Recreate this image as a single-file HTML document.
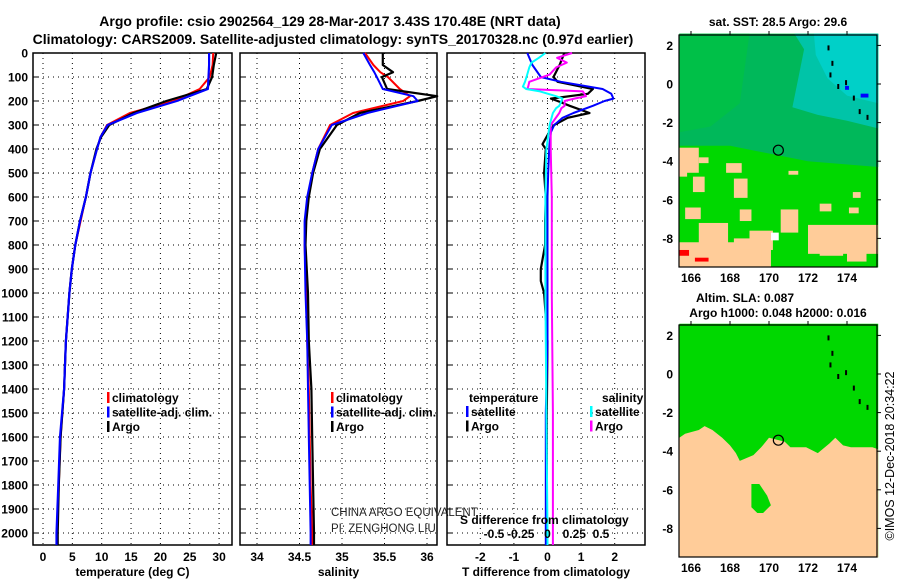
<!DOCTYPE html>
<html><head><meta charset="utf-8"><style>
body{margin:0;background:#fff;}
svg text{font-family:"Liberation Sans",sans-serif;}
</style></head><body>
<svg id="fig" xmlns="http://www.w3.org/2000/svg" width="900" height="580" viewBox="0 0 900 580">
<rect x="0" y="0" width="900" height="580" fill="#fff"/>
<text x="330" y="26" font-size="14" font-weight="bold" text-anchor="middle">Argo profile: csio 2902564_129 28-Mar-2017 3.43S 170.48E (NRT data)</text>
<text x="333" y="44" font-size="14" font-weight="bold" text-anchor="middle">Climatology: CARS2009. Satellite-adjusted climatology: synTS_20170328.nc (0.97d earlier)</text>
<g id="plots"></g>
</svg>
<script>
// ---- data ----
const depthTicks = [0,100,200,300,400,500,600,700,800,900,1000,1100,1200,1300,1400,1500,1600,1700,1800,1900,2000];
const tempTicks = [0,5,10,15,20,25,30];
const salTicks = [34,34.5,35,35.5,36];
const tdTicks = [-2,-1,0,1,2];
const sdTicks = [-0.5,-0.25,0,0.25,0.5];
const sdTickLabels = ["-0.5","-0.25","0","0.25","0.5"];

const profDepth = [0,50,100,150,200,250,300,350,400,500,600,700,800,900,1000,1200,1400,1600,1800,2000,2050];
const tempClim  = [29.0,28.9,28.4,26.7,22.2,14.8,10.9,9.8,9.2,8.1,7.3,6.4,5.5,4.9,4.5,3.9,3.6,3.0,2.7,2.4,2.3];
const tempSat   = [28.3,28.3,28.2,28.1,22.8,16.0,11.0,9.8,9.2,8.1,7.3,6.3,5.5,4.9,4.5,3.9,3.6,2.9,2.6,2.3,2.3];
const tempArgo  = [29.5,29.1,28.8,27.9,21.0,15.4,11.3,9.9,9.1,8.1,7.3,6.3,5.5,4.9,4.5,3.9,3.6,3.0,2.7,2.5,2.5];

const salDepth = [0,50,80,100,150,180,200,250,300,400,500,600,700,800,1000,1200,1400,1600,1800,2000,2050];
const salClim = [35.27,35.37,35.45,35.54,35.68,35.80,35.72,35.13,34.86,34.72,34.65,34.60,34.57,34.56,34.58,34.59,34.61,34.62,34.63,34.65,34.65];
const salSat  = [35.25,35.33,35.38,35.41,35.48,35.84,35.89,35.30,34.88,34.72,34.65,34.59,34.56,34.56,34.57,34.59,34.60,34.61,34.62,34.63,34.63];
const salArgo = [35.48,35.48,35.60,35.47,35.53,36.12,35.89,35.21,34.94,34.74,34.66,34.61,34.58,34.57,34.60,34.61,34.64,34.65,34.66,34.67,34.67];

const tdDepth = [0,50,100,120,150,170,190,200,220,250,270,300,330,380,400,500,600,700,800,900,950,1000,1100,1200,1500,2000,2050];
const tdSat  = [-0.6,-0.45,-0.2,0.4,1.64,1.9,1.96,1.7,1.35,0.77,0.45,0.2,0.1,0.06,0.05,0.02,0.0,0.0,0.0,0.0,0.0,0.0,0.0,0.0,-0.05,-0.05,-0.05];
const tdArgo = [0.5,0.36,0.18,0.3,1.35,1.2,0.1,0.3,0.66,1.25,0.6,0.2,0.05,-0.15,-0.05,-0.1,-0.05,-0.07,-0.07,-0.2,-0.2,-0.1,-0.05,0.0,-0.02,-0.02,-0.02];
const sdDepth = [0,20,40,60,90,120,140,150,160,180,190,200,220,230,250,300,400,600,1000,1500,2000,2050];
const sdSat  = [-0.02,-0.08,-0.15,-0.17,-0.19,-0.21,-0.23,-0.2,-0.07,0.08,0.14,0.13,0.11,0.08,0.05,0.02,-0.01,-0.02,-0.02,-0.01,0.0,0.0];
const sdArgo = [0.23,0.09,0.18,0.08,0.02,-0.17,-0.18,-0.19,0.33,0.36,0.25,0.16,0.16,0.13,0.11,0.03,0.03,0.04,0.04,0.05,0.05,0.05];

const latTicks = [2,0,-2,-4,-6,-8];
const lonTicks = [166,168,170,172,174];
const argoLon = 170.48, argoLat = -3.43;

// ---- helpers ----
const NS = "http://www.w3.org/2000/svg";
const root = document.getElementById('plots');
function mk(tag, attrs, parent){ const e=document.createElementNS(NS,tag); for(const k in attrs) e.setAttribute(k,attrs[k]); (parent||root).appendChild(e); return e; }
const y0 = 53, yPer = 0.24, yBot = 545;
const yD = d => y0 + d*yPer;

function panel(name, left, right, xScale, ticks, tickLabels, title){
  const g = mk('g',{});
  
  
  ticks.forEach((t,i)=>{
    const x = xScale(t);
    const gl = mk('line',{x1:x,y1:y0,x2:x,y2:yBot,stroke:'#000','stroke-width':1,'stroke-dasharray':'1,4'},g);
    
    
    if(tickLabels){
      const tl = mk('text',{x:x,y:561,'font-size':12,'font-weight':'bold','text-anchor':'middle'},g);
      tl.textContent = tickLabels[i];
      
      
    }
  });
  depthTicks.forEach(d=>{
    const y = yD(d);
    const hl = mk('line',{x1:left,y1:y,x2:right,y2:y,stroke:'#000','stroke-width':1,'stroke-dasharray':'1,4'},g);
    
    
    const tk = mk('line',{x1:left,y1:y,x2:left+5,y2:y,stroke:'#000'},g);
    
    
  });
  const fr = mk('rect',{x:left,y:y0,width:right-left,height:yBot-y0,fill:'none',stroke:'#000','stroke-width':1.5},g);
  
  
  const at = mk('text',{x:(left+right)/2,y:576,'font-size':12,'font-weight':'bold','text-anchor':'middle'},g);
  at.textContent = title;
  
  
  return g;
}
function line(g, name, xs, ds, xScale, color, w){
  const pts = xs.map((v,i)=>xScale(v).toFixed(1)+','+yD(ds[i]).toFixed(1)).join(' ');
  const p = mk('polyline',{points:pts,fill:'none',stroke:color,'stroke-width':w||2,'stroke-linejoin':'round'},g);
  
  
}
function legend(g, items, x, y){
  items.forEach((it,i)=>{
    const yy = y + i*14.5;
    const b = mk('rect',{x:x,y:yy-10,width:2.5,height:11,fill:it[1]},g);
    
    
    const t = mk('text',{x:x+5,y:yy,'font-size':12,'font-weight':'bold'},g);
    t.textContent = it[0];
    
    
  });
}
function txt(g,name,s,x,y,opts){
  const t = mk('text',Object.assign({x:x,y:y,'font-size':12,'font-weight':'bold'},opts||{}),g);
  t.textContent = s;
  
  
  return t;
}

// y tick labels
const yl = mk('g',{});


depthTicks.forEach(d=>{
  const t = mk('text',{x:28,y:yD(d)+4.5,'font-size':12,'font-weight':'bold','text-anchor':'end'},yl);
  t.textContent = d;
  
  
});

// Temperature panel
const xT = v => 43 + v*5.87;
const gT = panel('temperature-panel', 33, 232, xT, tempTicks, tempTicks.map(String), 'temperature (deg C)');
line(gT,'temperature-climatology-line',tempClim,profDepth,xT,'#f00',2);
line(gT,'temperature-argo-line',tempArgo,profDepth,xT,'#000',2.2);
line(gT,'temperature-satellite-line',tempSat,profDepth,xT,'#00f',2.2);
legend(gT,[['climatology','#f00'],['satellite-adj. clim.','#00f'],['Argo','#000']],107,402);

// Salinity panel
const xS = v => 257 + (v-34)*85;
const gS = panel('salinity-panel', 240, 437, xS, salTicks, salTicks.map(String), 'salinity');
line(gS,'salinity-climatology-line',salClim,salDepth,xS,'#f00',2);
line(gS,'salinity-argo-line',salArgo,salDepth,xS,'#000',2.2);
line(gS,'salinity-satellite-line',salSat,salDepth,xS,'#00f',2);
legend(gS,[['climatology','#f00'],['satellite-adj. clim.','#00f'],['Argo','#000']],331,402);
txt(gS,'pi-credit-line1','CHINA ARGO EQUIVALENT',331,516,{'font-weight':'normal','font-size':11.5,fill:'#222'});
txt(gS,'pi-credit-line2','PI: ZENGHONG LIU',331,532,{'font-weight':'normal','font-size':11.5,fill:'#222'});

// Difference panel
const xTD = v => 547.5 + v*33.6;
const xSD = v => 547.5 + v*107;
const gD = panel('difference-panel', 447, 645, xTD, tdTicks, tdTicks.map(String), 'T difference from climatology');
line(gD,'tdiff-argo-line',tdArgo,tdDepth,xTD,'#000',2.2);
line(gD,'tdiff-satellite-line',tdSat,tdDepth,xTD,'#00f',2);
line(gD,'sdiff-argo-line',sdArgo,sdDepth,xSD,'#f0f',2);
line(gD,'sdiff-satellite-line',sdSat,sdDepth,xSD,'#0ff',2);
txt(gD,'tdiff-legend-title','temperature',469,402);
txt(gD,'sdiff-legend-title','salinity',602,402);
legend(gD,[['satellite','#00f'],['Argo','#000']],466,416);
legend(gD,[['satellite','#0ff'],['Argo','#f0f']],590,416);
txt(gD,'sdiff-axis-title','S difference from climatology',460,524);
sdTicks.forEach((t,i)=>{
  txt(gD,'sdiff-tick-label',sdTickLabels[i],xSD(t),538,{'text-anchor':'middle'});
});

// ---- maps ----
const mapL=679, mapR=877;
const lonX = lon => 691 + (lon-166)*19.5;
function mapFrame(name){
  const g = mk('g',{});
  
  
  return g;
}
function mapAxes(g, top, bot, latY){
  const fr = mk('rect',{x:mapL,y:top,width:mapR-mapL,height:bot-top,fill:'none',stroke:'#000','stroke-width':1.2},g);
  
  
  latTicks.forEach(la=>{
    const y=latY(la);
    txt(g,'lat-tick-label',String(la),673,y+4.5,{'text-anchor':'end'});
    const tk=mk('line',{x1:mapR,y1:y,x2:mapR+4,y2:y,stroke:'#000'},g);
    
    
  });
  lonTicks.forEach(lo=>{
    const x=lonX(lo);
    txt(g,'lon-tick-label',String(lo),x,bot+15,{'text-anchor':'middle'});
    const tk=mk('line',{x1:x,y1:top,x2:x,y2:top-4,stroke:'#000'},g);
    
    
  });
  const c = mk('circle',{cx:lonX(argoLon),cy:latY(argoLat),r:5,fill:'none',stroke:'#000','stroke-width':1.2},g);
  
  
  const isl = [[173,2],[173.2,1.2],[173.1,0.6],[173.5,0],[173.9,0.2],[174.3,-0.6],[174.6,-1.3],[175.0,-1.6]];
  isl.forEach(p=>{
    const r=mk('rect',{x:lonX(p[0]),y:latY(p[1]),width:2,height:5,fill:'#000'},g);
    
    
  });
}
function poly(g,name,pts,fill,latY){
  const p=mk('polygon',{points:pts.map(q=>lonX(q[0]).toFixed(1)+','+latY(q[1]).toFixed(1)).join(' '),fill:fill},g);
  
  
}
function box(g,name,lo,la,w,h,fill,latY){
  const r=mk('rect',{x:lonX(lo),y:latY(la),width:w*19.5,height:h*19.3,fill:fill},g);
  
  
}
// SST map
const lat1 = la => 84 - la*19.3;
const gM1 = mapFrame('sst-map');
txt(gM1,'sst-map-title','sat. SST: 28.5 Argo: 29.6',778,26,{'text-anchor':'middle'});
poly(gM1,'sst-bright-region',[[165.4,2.6],[175.6,2.6],[175.6,-9.5],[165.4,-9.5]],'#00d800',lat1);
poly(gM1,'sst-teal-region',[[165.4,2.6],[175.6,2.6],[175.6,-4.3],[172,-4.0],[170,-3.6],[168,-3.2],[165.4,-3.2]],'#00b85a',lat1);
poly(gM1,'sst-greenish-north',[[165.4,2.6],[169,2.6],[168.5,-1],[167,-2.2],[165.4,-2.5]],'#00c048',lat1);
poly(gM1,'sst-cyan-region',[[171.3,2.6],[175.6,2.6],[175.6,-2.3],[174,-1.9],[172.5,-1.6],[171.2,-1.2],[171.5,0.3],[171.8,1.8]],'#00c4a8',lat1);
poly(gM1,'sst-cyan-core',[[172.3,2.6],[175.6,2.6],[175.6,-1.0],[174,-0.6],[173,0.3],[172.4,1.5]],'#00d0c8',lat1);
const beige='#ffcc99';
[[165.4,-3.3,1,1.3],[166.4,-3.8,0.5,0.3],[165.4,-4.3,0.4,0.5],[167.8,-4.1,0.8,0.5],[166.1,-4.8,0.6,0.8],[168.2,-4.9,0.7,1.0],[171,-4.5,0.5,0.2],[174.3,-5.6,0.4,0.3],[170.6,-6.5,0.9,1.2],[168.5,-6.5,0.6,0.6],[165.7,-6.4,0.8,0.6],[172.6,-6.2,0.6,0.4],[174.1,-6.4,0.5,0.3],[166.4,-7.2,1.5,1.4],[169.0,-7.6,1.2,1.0],[172,-7.3,3.6,1.5],[165.4,-8.2,4.5,1.3],[168.2,-8.0,1.0,0.6],[174,-8.6,1,0.6],[172.6,-8.5,1.2,0.4],[169.6,-8.5,0.5,1.0]].forEach(b=>box(gM1,'sst-missing-patch',b[0],b[1],b[2],b[3],beige,lat1));
box(gM1,'sst-red-cell',165.4,-8.6,0.5,0.3,'#f00',lat1);
box(gM1,'sst-red-cell',166.2,-9.0,0.7,0.2,'#f00',lat1);
box(gM1,'sst-blue-cell',174.7,-0.5,0.4,0.2,'#00f',lat1);
box(gM1,'sst-blue-cell',173.9,-0.1,0.2,0.2,'#00f',lat1);
box(gM1,'sst-white-cell',170.1,-7.7,0.4,0.4,'#fff',lat1);
mapAxes(gM1,35,267,lat1);

// SLA map
const lat2 = la => 374 - la*19.3;
const gM2 = mapFrame('sla-map');
txt(gM2,'sla-map-title','Altim. SLA: 0.087',745,302,{'text-anchor':'middle'});
txt(gM2,'sla-argo-heights','Argo h1000: 0.048 h2000: 0.016',778,317,{'text-anchor':'middle'});
poly(gM2,'sla-green-region',[[165.4,2.6],[175.6,2.6],[175.6,-9.5],[165.4,-9.5]],'#00d800',lat2);
poly(gM2,'sla-low-region',[[165.4,-3.3],[165.7,-3.1],[166.4,-2.9],[166.7,-2.7],[167.1,-2.9],[167.6,-3.3],[168.0,-3.7],[168.3,-4.1],[168.5,-4.5],[169.2,-4.2],[169.6,-3.8],[170.0,-3.3],[170.8,-3.5],[171.1,-3.8],[171.9,-3.8],[172.5,-4.1],[173.1,-3.6],[173.4,-3.3],[173.8,-3.7],[174.2,-3.8],[175.3,-3.8],[175.6,-3.9],[175.6,-9.5],[165.4,-9.5]],beige,lat2);
poly(gM2,'sla-green-patch',[[169.1,-5.7],[169.5,-5.7],[169.9,-6.3],[170.1,-6.8],[169.7,-7.2],[169.4,-7.2],[169.1,-6.9]],'#00d800',lat2);
mapAxes(gM2,325,557,lat2);
txt(gM2,'copyright-timestamp','©IMOS 12-Dec-2018 20:34:22',0,0,{'font-weight':'normal','font-size':12.5,'text-anchor':'middle',transform:'translate(894,456) rotate(-90)'});
</script>
</body></html>
